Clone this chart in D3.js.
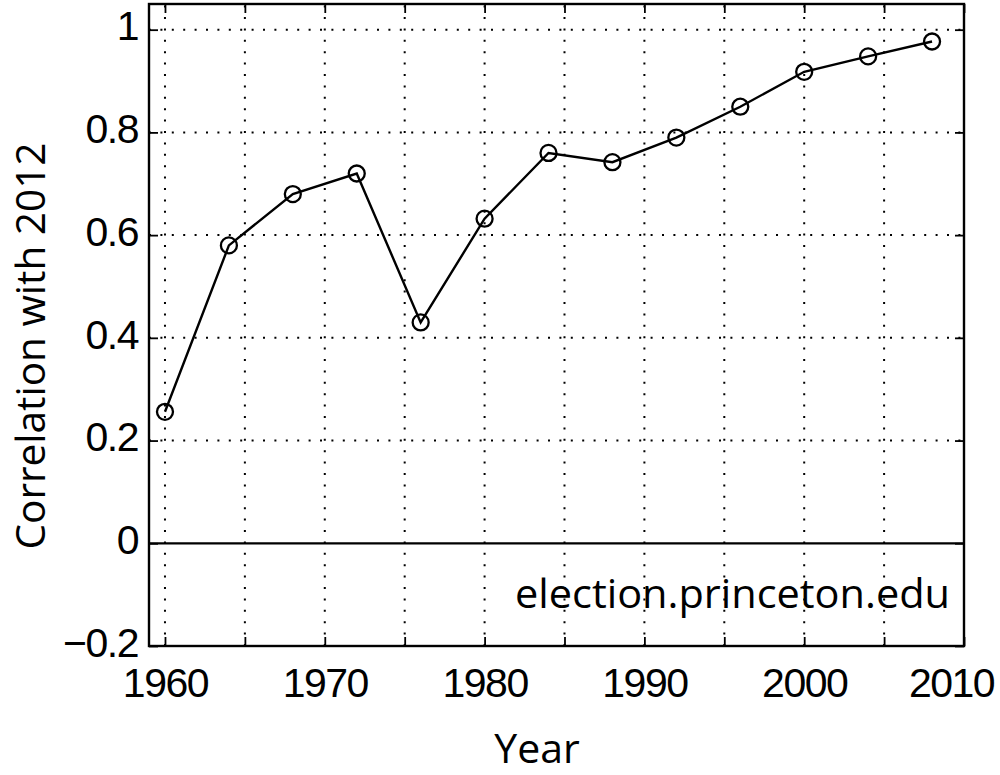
<!DOCTYPE html>
<html>
<head>
<meta charset="utf-8">
<script src="https://cdn.jsdelivr.net/npm/d3@7"></script>
<style>
  body { margin: 0; background: #fff; }
  svg { display: block; font-family: "Open Sans", "Noto Sans", sans-serif; }
  .tick text { font-size: 41px; fill: #000; letter-spacing: -1.5px; }
  .tick line { stroke: #000; stroke-width: 1.8; }
  .grid line { stroke: #000; stroke-width: 2; stroke-dasharray: 2 9.4; }
</style>
</head>
<body>
<svg id="chart" width="1000" height="775"></svg>
<script>
// election years and correlation of each year's state results with 2012
const years = [1960, 1964, 1968, 1972, 1976, 1980, 1984, 1988, 1992, 1996, 2000, 2004, 2008];
const correlations = [0.256, 0.58, 0.68, 0.72, 0.43, 0.632, 0.76, 0.742, 0.79, 0.85, 0.918, 0.948, 0.977];

// ticks: every 5 years, only decades labelled
const xTicks = [1960, 1965, 1970, 1975, 1980, 1985, 1990, 1995, 2000, 2005, 2010];
const yTicks = [-0.2, 0, 0.2, 0.4, 0.6, 0.8, 1];

const svg = d3.select("#chart");
const plotLeft = 149, plotRight = 964, plotTop = 4, plotBottom = 646;

const x = d3.scaleLinear().domain([1959, 2010]).range([plotLeft, plotRight]);
const y = d3.scaleLinear().domain([-0.2, 1.05]).range([plotBottom, plotTop]);

// watermark text (under the grid, as in the original)
svg.append("text")
  .attr("x", 515)
  .attr("y", 608)
  .attr("font-size", 41)
  .attr("textLength", 435)
  .attr("lengthAdjust", "spacingAndGlyphs")
  .text("election.princeton.edu");

// dotted grid
svg.append("g")
  .attr("class", "grid")
  .selectAll("line")
  .data(xTicks.filter((d) => d < 2010))
  .join("line")
  .attr("x1", (d) => x(d))
  .attr("x2", (d) => x(d))
  .attr("y1", plotBottom)
  .attr("y2", plotTop);

svg.append("g")
  .attr("class", "grid")
  .selectAll("line")
  .data(yTicks.filter((d) => d > -0.2 && d !== 0))
  .join("line")
  .attr("x1", plotLeft)
  .attr("x2", plotRight)
  .attr("y1", (d) => y(d))
  .attr("y2", (d) => y(d));

// solid zero line
svg.append("line")
  .attr("x1", plotLeft)
  .attr("x2", plotRight)
  .attr("y1", y(0))
  .attr("y2", y(0))
  .attr("stroke", "#000")
  .attr("stroke-width", 2.2);

// axes with inward ticks on all four sides
const fmtYear = (d) => (d % 10 === 0 ? d : "");
const fmtY = (d) => (d === 0 || d === 1 ? d3.format("d")(d) : d3.format(".1f")(d));

const xAxis = svg.append("g")
  .attr("transform", `translate(0,${plotBottom})`)
  .call(d3.axisBottom(x).tickValues(xTicks).tickFormat(fmtYear).tickSize(-9).tickPadding(22));
xAxis.selectAll(".tick text")
  .attr("dy", "0.71em")
  // last label sits a little left of its tick so it stays inside the figure
  .attr("dx", (d) => (d === 2010 ? -13 : 0));

svg.append("g")
  .attr("transform", `translate(0,${plotTop})`)
  .call(d3.axisTop(x).tickValues(xTicks).tickFormat("").tickSize(-9));

const yAxis = svg.append("g")
  .attr("transform", `translate(${plotLeft},0)`)
  .call(d3.axisLeft(y).tickValues(yTicks).tickFormat(fmtY).tickSize(-9).tickPadding(11));
yAxis.selectAll(".tick text").attr("dy", "0.25em");

svg.append("g")
  .attr("transform", `translate(${plotRight},0)`)
  .call(d3.axisRight(y).tickValues(yTicks).tickFormat("").tickSize(-9));

svg.selectAll(".domain").remove();

// axes box
svg.append("rect")
  .attr("x", plotLeft)
  .attr("y", plotTop)
  .attr("width", plotRight - plotLeft)
  .attr("height", plotBottom - plotTop)
  .attr("fill", "none")
  .attr("stroke", "#000")
  .attr("stroke-width", 2.4);

// data line and circle markers
const line = d3.line()
  .x((d, i) => x(years[i]))
  .y((d) => y(d));

svg.append("path")
  .datum(correlations)
  .attr("d", line)
  .attr("fill", "none")
  .attr("stroke", "#000")
  .attr("stroke-width", 2.4);

svg.append("g")
  .selectAll("circle")
  .data(correlations)
  .join("circle")
  .attr("cx", (d, i) => x(years[i]))
  .attr("cy", (d) => y(d))
  .attr("r", 8)
  .attr("fill", "none")
  .attr("stroke", "#000")
  .attr("stroke-width", 2.3);

// axis labels
svg.append("text")
  .attr("x", 537)
  .attr("y", 763)
  .attr("text-anchor", "middle")
  .attr("font-size", 41)
  .text("Year");

svg.append("text")
  .attr("transform", "translate(45,346) rotate(-90)")
  .attr("text-anchor", "middle")
  .attr("font-size", 41)
  .attr("textLength", 407)
  .attr("lengthAdjust", "spacingAndGlyphs")
  .text("Correlation with 2012");
</script>
</body>
</html>
